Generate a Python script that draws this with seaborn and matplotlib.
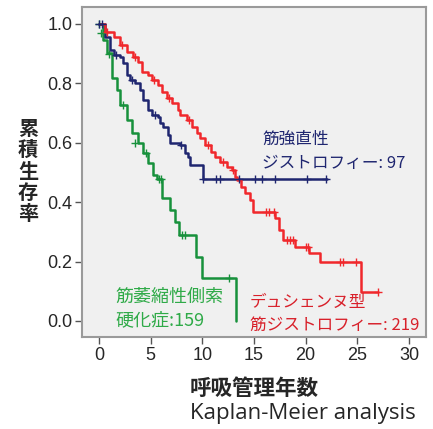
import numpy as np
import pandas as pd
import matplotlib
matplotlib.use("Agg")
import matplotlib.pyplot as plt
import seaborn as sns

# Kaplan-Meier step curves (time in years, cumulative survival)
als_t = [0, 0.4, 0.8, 1.3, 1.7, 2.0, 2.7, 3.2, 3.8, 4.3, 4.7, 5.2, 5.6, 6.1, 6.9, 7.4, 7.7, 9.4, 10.0, 13.3]
als_s = [1.0, 0.946, 0.902, 0.818, 0.778, 0.727, 0.677, 0.633, 0.599, 0.566, 0.532, 0.491, 0.478, 0.413,
         0.374, 0.334, 0.29, 0.216, 0.146, 0.0]

dm_t = [0, 0.6, 1.1, 1.4, 2.0, 2.3, 2.7, 3.0, 3.5, 4.0, 4.3, 4.7, 5.1, 5.7, 5.9, 6.2, 6.7, 6.9, 7.8,
        8.3, 8.6, 8.8, 10.1, 22.1]
dm_s = [1.0, 0.956, 0.912, 0.896, 0.889, 0.869, 0.828, 0.811, 0.801, 0.778, 0.744, 0.71, 0.694, 0.687,
        0.667, 0.653, 0.626, 0.599, 0.593, 0.566, 0.552, 0.525, 0.478, 0.478]

dmd_t = [0, 0.6, 1.4, 2.0, 2.7, 3.3, 3.8, 4.2, 4.7, 5.1, 5.7, 6.1, 6.6, 7.1, 7.6, 7.8, 8.5, 9.0, 9.5,
         9.8, 10.3, 10.8, 11.2, 11.7, 12.4, 12.9, 13.2, 13.4, 13.7, 14.1, 14.6, 14.9, 17.0, 17.4, 17.8,
         19.0, 20.3, 21.4, 25.4, 27.0]
dmd_s = [1.0, 0.974, 0.956, 0.929, 0.906, 0.889, 0.872, 0.838, 0.828, 0.811, 0.795, 0.771, 0.751, 0.734,
         0.71, 0.694, 0.677, 0.653, 0.633, 0.616, 0.593, 0.569, 0.552, 0.535, 0.519, 0.508, 0.485, 0.475,
         0.452, 0.43, 0.407, 0.368, 0.346, 0.306, 0.273, 0.25, 0.228, 0.2, 0.099, 0.099]

# censored observations
als_ct = [0, 0.2, 1.0, 2.3, 3.5, 4.5, 5.8, 6.0, 8.0, 8.3, 12.6]
als_cs = [1.0, 0.97, 0.90, 0.727, 0.599, 0.566, 0.478, 0.478, 0.29, 0.29, 0.146]
dm_ct = [0, 0.3, 1.6, 3.2, 5.4, 7.9, 10.1, 11.3, 11.7, 13.5, 15.1, 15.75, 17.0, 20.1, 22.0]
dm_cs = [1.0, 1.0, 0.896, 0.811, 0.694, 0.593, 0.478, 0.478, 0.478, 0.478, 0.478, 0.478, 0.478, 0.478, 0.478]
dmd_ct = [0.8, 2.2, 3.5, 5.3, 6.8, 8.7, 10.5, 12.0, 13.0, 16.2, 16.5, 16.9, 18.2, 18.5, 18.8, 20.0, 20.2,
          23.3, 23.65, 24.9, 27.0]
dmd_cs = [0.974, 0.929, 0.889, 0.811, 0.751, 0.677, 0.593, 0.535, 0.508, 0.368, 0.368, 0.368, 0.273, 0.273,
          0.273, 0.25, 0.25, 0.2, 0.2, 0.2, 0.099]

x_ticks = [0, 5, 10, 15, 20, 25, 30]
y_ticks = [0.0, 0.2, 0.4, 0.6, 0.8, 1.0]

red = "#f0282c"
navy = "#1f2670"
green = "#17913c"

sns.set_style("white")
plt.rcParams["font.family"] = ["Liberation Sans", "Noto Sans CJK JP"]
jp = ["Noto Sans CJK JP", "Liberation Sans"]

fig = plt.figure(figsize=(4.33, 4.29), dpi=100)
ax = fig.add_axes([82 / 433, 1 - 337 / 429, 344 / 433, 330 / 429])
ax.set_facecolor("#f0f0f0")

curves = [(als_t, als_s, green), (dm_t, dm_s, navy), (dmd_t, dmd_s, red)]
for t, s, c in curves:
    sns.lineplot(x=t, y=s, ax=ax, color=c, lw=1.8, drawstyle="steps-post",
                 estimator=None, sort=False)

marks = [(als_ct, als_cs, green), (dm_ct, dm_cs, navy), (dmd_ct, dmd_cs, red)]
for t, s, c in marks:
    sns.scatterplot(x=t, y=s, ax=ax, color=c, marker="+", s=30, linewidth=1.0, zorder=3)

ax.set_xlim(-1.65, 31.65)
ax.set_ylim(-0.054, 1.057)
ax.set_xticks(x_ticks)
ax.set_yticks(y_ticks)
ax.set_xticklabels([str(v) for v in x_ticks], fontsize=13)
ax.set_yticklabels([f"{v:.1f}" for v in y_ticks], fontsize=13)
ax.tick_params(axis="both", direction="out", length=5, width=1, color="#555555",
               left=True, bottom=True, pad=2)
for sp in ax.spines.values():
    sp.set_color("#9a9a9a")
    sp.set_linewidth(1.5)

# group labels
ax.text(15.8, 0.571, "筋強直性\nジストロフィー: 97", family=jp, fontsize=12, color=navy,
        va="center", ha="left", linespacing=1.5)
ax.text(1.6, 0.042, "筋萎縮性側索\n硬化症:159", family=jp, fontsize=13, color="#2faa48",
        va="center", ha="left", linespacing=1.4)
ax.text(14.6, 0.024, "デュシェンヌ型\n筋ジストロフィー: 219", family=jp, fontsize=12, color="#d8202a",
        va="center", ha="left", linespacing=1.5)

fig.text(28 / 433, 1 - 171 / 429, "累\n積\n生\n存\n率", family=jp, fontsize=14.5, fontweight="bold",
         ha="center", va="center", linespacing=1.02)
fig.text(254 / 433, 1 - 388 / 429, "呼吸管理年数", family=jp, fontsize=15.5, fontweight="bold",
         ha="center", va="center")
fig.text(303 / 433, 1 - 414 / 429, "Kaplan-Meier analysis", family=["Open Sans"], fontsize=16,
         ha="center", va="center")

fig.savefig("out.png", dpi=100)
